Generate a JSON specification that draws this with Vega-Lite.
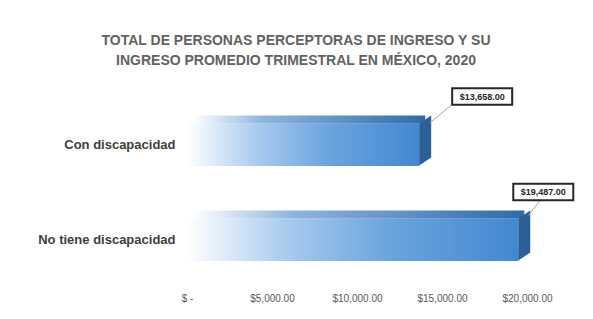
{
  "$schema": "https://vega.github.io/schema/vega-lite/v6.json",
  "width": 340,
  "height": 190,
  "autosize": {"type": "none"},
  "padding": {"left": 187, "top": 97, "right": 66, "bottom": 32},
  "background": "white",
  "config": {"view": {"stroke": null}, "font": "Liberation Sans"},
  "title": {
    "text": ["TOTAL DE PERSONAS PERCEPTORAS DE INGRESO Y SU", "INGRESO PROMEDIO TRIMESTRAL EN MÉXICO, 2020"],
    "anchor": "middle",
    "frame": "group",
    "dx": -61,
    "offset": 16,
    "fontSize": 14,
    "fontWeight": "bold",
    "color": "#626262",
    "lineHeight": 20,
    "font": "Liberation Sans"
  },
  "data": {
    "values": [
      {"categoria": "Con discapacidad", "ingreso": 13658, "etiqueta": "$13,658.00"},
      {"categoria": "No tiene discapacidad", "ingreso": 19487, "etiqueta": "$19,487.00"}
    ]
  },
  "encoding": {
    "y": {
      "field": "categoria",
      "type": "nominal",
      "sort": ["Con discapacidad", "No tiene discapacidad"],
      "scale": {"paddingInner": 0.55, "paddingOuter": 0.275},
      "axis": {
        "title": null,
        "domain": false,
        "ticks": false,
        "labelPadding": 12,
        "labelFontSize": 13,
        "labelFontWeight": "bold",
        "labelColor": "#404040",
        "labelFont": "Liberation Sans"
      }
    },
    "x": {
      "field": "ingreso",
      "type": "quantitative",
      "scale": {"domain": [0, 20000], "nice": false},
      "axis": {
        "title": null,
        "values": [0, 5000, 10000, 15000, 20000],
        "labelExpr": "datum.value == 0 ? '$ -' : '$' + format(datum.value, ',.2f')",
        "labelFlush": false,
        "grid": false,
        "domain": false,
        "ticks": false,
        "labelPadding": 6,
        "labelFontSize": 10,
        "labelColor": "#595959",
        "labelFont": "Liberation Sans"
      }
    }
  },
  "layer": [
    {
      "mark": {
        "type": "bar",
        "height": 8,
        "yOffset": -25,
        "xOffset": 6,
        "color": {
          "gradient": "linear", "x1": 0, "y1": 0, "x2": 1, "y2": 0,
          "stops": [
            {"offset": 0, "color": "#ffffff"},
            {"offset": 0.3, "color": "#8fb5de"},
            {"offset": 1, "color": "#2f6aa8"}
          ]
        }
      }
    },
    {
      "mark": {
        "type": "bar",
        "color": {
          "gradient": "linear", "x1": 0, "y1": 0, "x2": 1, "y2": 0,
          "stops": [
            {"offset": 0, "color": "#ffffff"},
            {"offset": 0.3, "color": "#a9cbee"},
            {"offset": 0.6, "color": "#6ca5df"},
            {"offset": 1, "color": "#4288d0"}
          ]
        }
      }
    },
    {
      "mark": {
        "type": "point",
        "filled": true,
        "size": 1936,
        "color": "#2b5f98",
        "opacity": 1,
        "shape": "M0,-0.955L0.545,-1.318L0.545,0.59L0,0.955Z"
      }
    },
    {
      "transform": [{"filter": "datum.categoria == 'Con discapacidad'"}],
      "mark": {"type": "rule", "color": "#a6a6a6", "strokeWidth": 1, "xOffset": 11, "yOffset": -22, "x2Offset": 33, "y2Offset": -40},
      "encoding": {"x2": {"field": "ingreso"}, "y2": {"field": "categoria"}}
    },
    {
      "transform": [{"filter": "datum.categoria == 'No tiene discapacidad'"}],
      "mark": {"type": "rule", "color": "#a6a6a6", "strokeWidth": 1, "xOffset": 10, "yOffset": -24, "x2Offset": 22, "y2Offset": -39},
      "encoding": {"x2": {"field": "ingreso"}, "y2": {"field": "categoria"}}
    },
    {
      "transform": [{"filter": "datum.categoria == 'Con discapacidad'"}],
      "mark": {"type": "point", "filled": false, "fill": "white", "stroke": "#262626", "strokeWidth": 2, "opacity": 1, "size": 900, "shape": "M-2,-0.55H2V0.55H-2Z", "xOffset": 63, "yOffset": -48}
    },
    {
      "transform": [{"filter": "datum.categoria == 'No tiene discapacidad'"}],
      "mark": {"type": "point", "filled": false, "fill": "white", "stroke": "#262626", "strokeWidth": 2, "opacity": 1, "size": 900, "shape": "M-2,-0.55H2V0.55H-2Z", "xOffset": 25, "yOffset": -47.5}
    },
    {
      "transform": [{"filter": "datum.categoria == 'Con discapacidad'"}],
      "mark": {"type": "text", "fontSize": 9, "fontWeight": "bold", "color": "#262626", "xOffset": 63, "yOffset": -48, "align": "center", "baseline": "middle", "font": "Liberation Sans"},
      "encoding": {"text": {"field": "etiqueta"}}
    },
    {
      "transform": [{"filter": "datum.categoria == 'No tiene discapacidad'"}],
      "mark": {"type": "text", "fontSize": 9, "fontWeight": "bold", "color": "#262626", "xOffset": 25, "yOffset": -47.5, "align": "center", "baseline": "middle", "font": "Liberation Sans"},
      "encoding": {"text": {"field": "etiqueta"}}
    }
  ]
}
